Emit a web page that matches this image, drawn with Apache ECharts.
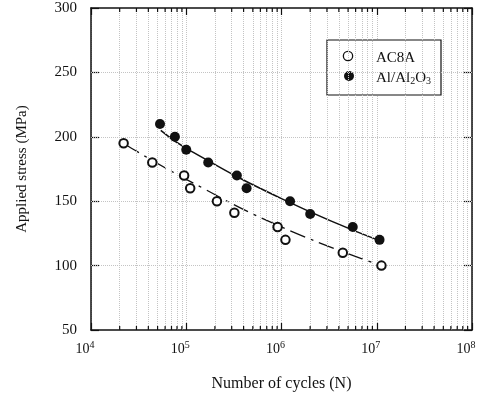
<!DOCTYPE html>
<html>
<head>
<meta charset="utf-8">
<script src="https://cdn.jsdelivr.net/npm/echarts@6/dist/echarts.min.js"></script>
<style>
  html, body { margin: 0; padding: 0; background: #fff; }
  #chart { width: 485px; height: 397px; }
</style>
</head>
<body>
<div id="chart"></div>
<script>
// Data
const ac8aCycles = [2.2e4, 4.4e4, 9.5e4, 1.1e5, 2.1e5, 3.2e5, 9.1e5, 1.1e6, 4.4e6, 1.12e7];
const ac8aStress = [195, 180, 170, 160, 150, 141, 130, 120, 110, 100];
const alCycles = [5.3e4, 7.6e4, 1.0e5, 1.7e5, 3.4e5, 4.3e5, 1.23e6, 2.0e6, 5.6e6, 1.07e7];
const alStress = [210, 200, 190, 180, 170, 160, 150, 140, 130, 120];

// Fitted curves as drawn
const ac8aFitCycles = [2.3e4, 1.0e5, 1.0e6, 1.12e7];
const ac8aFitStress = [194, 167, 130, 100];
const alFitCycles = [5.4e4, 1.0e5, 1.0e6, 1.1e7];
const alFitStress = [205, 191, 152, 119];

// Axis ticks
const decades = [1e4, 1e5, 1e6, 1e7, 1e8];
const minorMantissas = [2, 3, 4, 5, 6, 7, 8, 9];
const stressTicks = [100, 150, 200, 250];

const minorTicks = [];
decades.slice(0, 4).forEach(d => minorMantissas.forEach(m => minorTicks.push(m * d)));

const pairs = (xs, ys) => xs.map((x, i) => [x, ys[i]]);
const font = 'Liberation Serif';
const black = '#111';
const gridGrey = '#c4c4c4';

const chart = echarts.init(document.getElementById('chart'));

const supLabel = v => {
  const e = Math.round(Math.log10(v));
  return '{b|10}{p|' + e + '}';
};

chart.setOption({
  animation: false,
  textStyle: { fontFamily: font, color: black },
  grid: { left: 91, right: 13, top: 8, bottom: 66 },
  legend: {
    orient: 'vertical',
    left: 327,
    top: 40,
    padding: [10, 10, 9, 12],
    icon: 'none',
    itemWidth: 0,
    itemHeight: 10,
    itemGap: 4,
    backgroundColor: '#fff',
    borderColor: black,
    borderWidth: 1.2,
    data: ['AC8A', 'Al/Al2O3'],
    // markers drawn as rich-text tokens so the hollow/filled look is exact
    formatter: name => name === 'AC8A'
      ? '{mo|}{g|}{a|AC8A}'
      : '{mf|}{g2|}{a|Al/Al}{s|2}{a|O}{s|3}',
    textStyle: {
      rich: {
        mo: { width: 8, height: 8, borderRadius: 5, borderWidth: 1.3, borderColor: black, backgroundColor: '#fff' },
        mf: { width: 10, height: 10, borderRadius: 5, backgroundColor: black },
        g: { width: 24 },
        g2: { width: 22 },
        a: { fontFamily: font, fontSize: 15, lineHeight: 20, color: black, verticalAlign: 'bottom' },
        s: { fontFamily: font, fontSize: 10, lineHeight: 10, color: black, verticalAlign: 'bottom' }
      }
    }
  },
  xAxis: [
    {
      type: 'log',
      logBase: 10,
      min: 1e4,
      max: 1e8,
      name: 'Number of cycles (N)',
      nameLocation: 'middle',
      nameGap: 46,
      nameTextStyle: { fontFamily: font, fontSize: 16, color: black },
      axisLine: { lineStyle: { color: black, width: 1.5 } },
      axisTick: { inside: true, length: 7, lineStyle: { color: black, width: 1.2 } },
      axisLabel: {
        margin: 10,
        padding: [0, 12, 0, 0],
        formatter: supLabel,
        rich: {
          b: { fontFamily: font, fontSize: 14, lineHeight: 16, color: black, verticalAlign: 'bottom' },
          p: { fontFamily: font, fontSize: 10, lineHeight: 10, color: black, verticalAlign: 'top', padding: [0, 0, 9, 0] }
        }
      },
      splitLine: { show: true, lineStyle: { color: gridGrey, type: 'dotted', width: 1 } }
    },
    {
      type: 'log',
      logBase: 10,
      min: 1e4,
      max: 1e8,
      position: 'top',
      axisLine: { lineStyle: { color: black, width: 1.5 } },
      axisTick: { inside: true, length: 7, lineStyle: { color: black, width: 1.2 } },
      axisLabel: { show: false },
      splitLine: { show: false }
    }
  ],
  yAxis: [
    {
      type: 'value',
      min: 50,
      max: 300,
      interval: 50,
      name: 'Applied stress (MPa)',
      nameLocation: 'middle',
      nameGap: 61,
      nameTextStyle: { fontFamily: font, fontSize: 15, color: black },
      axisLine: { show: true, lineStyle: { color: black, width: 1.5 } },
      axisTick: { show: true, inside: true, length: 8, lineStyle: { color: black, width: 1.2 } },
      axisLabel: { margin: 14, padding: [8, 0, 0, 0], fontFamily: font, fontSize: 15, color: black },
      splitLine: { show: false }
    },
    {
      type: 'value',
      min: 50,
      max: 300,
      interval: 50,
      position: 'right',
      axisLine: { show: true, lineStyle: { color: black, width: 1.5 } },
      axisTick: { show: true, inside: true, length: 8, lineStyle: { color: black, width: 1.2 } },
      axisLabel: { show: false },
      splitLine: { show: false }
    }
  ],
  series: [
    {
      // minor grid lines and horizontal grid
      type: 'line',
      data: [],
      silent: true,
      markLine: {
        silent: true,
        symbol: ['none', 'none'],
        label: { show: false },
        lineStyle: { color: gridGrey, type: 'dotted', width: 1 },
        data: minorTicks.map(v => ({ xAxis: v }))
          .concat(stressTicks.map(v => ({ yAxis: v })))
      }
    },
    {
      // minor ticks, bottom
      type: 'scatter',
      silent: true,
      symbol: 'rect',
      symbolSize: [1.2, 4],
      symbolOffset: [0, -2],
      itemStyle: { color: black, opacity: 1 },
      data: minorTicks.map(v => [v, 50]),
      z: 5
    },
    {
      // minor ticks, top
      type: 'scatter',
      silent: true,
      symbol: 'rect',
      symbolSize: [1.2, 4],
      symbolOffset: [0, 2],
      itemStyle: { color: black, opacity: 1 },
      data: minorTicks.map(v => [v, 300]),
      z: 5
    },
    {
      name: 'AC8A fit',
      type: 'line',
      smooth: true,
      showSymbol: false,
      silent: true,
      lineStyle: { color: black, width: 1.3, type: [16, 6, 3, 6] },
      data: pairs(ac8aFitCycles, ac8aFitStress)
    },
    {
      name: 'Al/Al2O3 fit',
      type: 'line',
      smooth: true,
      showSymbol: false,
      silent: true,
      lineStyle: { color: black, width: 1.5 },
      data: pairs(alFitCycles, alFitStress)
    },
    {
      name: 'AC8A',
      type: 'scatter',
      symbol: 'emptyCircle',
      symbolSize: 8.5,
      itemStyle: { color: black, borderColor: black, borderWidth: 1.3, opacity: 1 },
      data: pairs(ac8aCycles, ac8aStress),
      z: 10
    },
    {
      name: 'Al/Al2O3',
      type: 'scatter',
      symbol: 'circle',
      symbolSize: 10,
      itemStyle: { color: black, borderColor: black, borderWidth: 0, opacity: 1 },
      data: pairs(alCycles, alStress),
      z: 10
    }
  ]
});
</script>
</body>
</html>
